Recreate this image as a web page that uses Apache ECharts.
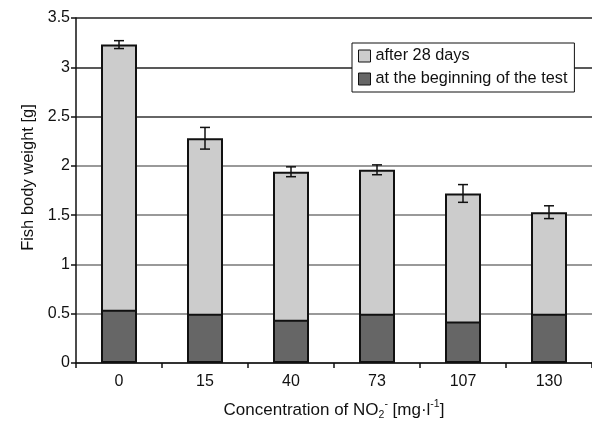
<!DOCTYPE html>
<html>
<head>
<meta charset="utf-8">
<script src="https://cdn.jsdelivr.net/npm/echarts@6/dist/echarts.min.js"></script>
<style>html,body{margin:0;padding:0;background:#fff}#c{width:592px;height:426px}</style>
</head>
<body>
<div id="c"></div>
<script>
var categories = ['0', '15', '40', '73', '107', '130'];
var after28Days = [3.23, 2.28, 1.94, 1.96, 1.72, 1.53];
var after28Err = [0.04, 0.11, 0.05, 0.05, 0.09, 0.065];
var atBeginning = [0.54, 0.50, 0.44, 0.50, 0.42, 0.50];
var yTicks = { min: 0, max: 3.5, interval: 0.5 };

var chart = echarts.init(document.getElementById('c'), null, { renderer: 'canvas' });
var FONT = '"Liberation Sans", Arial, Helvetica, sans-serif';

var errData = after28Days.map(function (v, i) { return [i, v, after28Err[i]]; });

chart.setOption({
  animation: false,
  backgroundColor: '#fff',
  textStyle: { fontFamily: FONT },
  grid: { left: 76, right: -7, top: 18, bottom: 57, containLabel: false },
  legend: {
    orient: 'vertical',
    left: 352, top: 43,
    backgroundColor: '#fff',
    borderColor: '#111', borderWidth: 1,
    padding: [5, 7, 5, 6],
    itemWidth: 12, itemHeight: 12, itemGap: 7,
    icon: 'rect',
    textStyle: { fontFamily: FONT, fontSize: 16.3, color: '#111' },
    itemStyle: { borderWidth: 1, borderColor: '#111' },
    data: ['after 28 days', 'at the beginning of the test']
  },
  xAxis: {
    type: 'category',
    data: categories,
    name: '{n|Concentration of NO}{sub|2}{sup|-}{n| [mg·l}{sup|-1}{n|]}',
    nameLocation: 'middle',
    nameGap: 36,
    nameTextStyle: {
      fontFamily: FONT, fontSize: 17, color: '#111',
      rich: {
        n: { fontFamily: FONT, fontSize: 17, color: '#111', lineHeight: 22, verticalAlign: 'middle' },
        sub: { fontFamily: FONT, fontSize: 10.5, color: '#111', lineHeight: 22, verticalAlign: 'bottom' },
        sup: { fontFamily: FONT, fontSize: 10.5, color: '#111', lineHeight: 22, verticalAlign: 'top' }
      }
    },
    axisLine: { lineStyle: { color: '#111', width: 1.5 } },
    axisTick: { show: true, length: 5, lineStyle: { color: '#111', width: 1.5 } },
    axisLabel: { fontFamily: FONT, fontSize: 16, color: '#111', margin: 11 },
    splitLine: { show: false }
  },
  yAxis: {
    type: 'value',
    min: yTicks.min, max: yTicks.max, interval: yTicks.interval,
    name: 'Fish body weight [g]',
    nameLocation: 'middle',
    nameGap: 39,
    nameTextStyle: { fontFamily: FONT, fontSize: 16.5, color: '#111', padding: [0, 0, 0, 26] },
    axisLine: { show: true, lineStyle: { color: '#111', width: 1.5 } },
    axisTick: { show: true, length: 5, lineStyle: { color: '#111', width: 1.5 } },
    axisLabel: { fontFamily: FONT, fontSize: 16, color: '#111', margin: 6 },
    splitLine: { show: true, lineStyle: { color: ['#777', '#777', '#777', '#777', '#777', '#333', '#222', '#222'], width: 1.5 } }
  },
  series: [
    {
      name: 'after 28 days',
      type: 'bar',
      data: after28Days,
      barWidth: 36,
      barGap: '-100%',
      itemStyle: { color: '#cccccc', borderColor: '#111', borderWidth: 2 },
      z: 2
    },
    {
      name: 'at the beginning of the test',
      type: 'bar',
      data: atBeginning,
      barWidth: 36,
      barGap: '-100%',
      itemStyle: { color: '#666666', borderColor: '#111', borderWidth: 2 },
      z: 3
    },
    {
      name: 'err',
      type: 'custom',
      data: errData,
      z: 5,
      silent: true,
      renderItem: function (params, api) {
        var x = api.value(0), v = api.value(1), e = api.value(2);
        var top = api.coord([x, v + e]);
        var bot = api.coord([x, v - e]);
        var hw = 5;
        var st = { stroke: '#111', lineWidth: 1.5 };
        return {
          type: 'group',
          children: [
            { type: 'line', shape: { x1: top[0], y1: top[1], x2: bot[0], y2: bot[1] }, style: st },
            { type: 'line', shape: { x1: top[0] - hw, y1: top[1], x2: top[0] + hw, y2: top[1] }, style: st },
            { type: 'line', shape: { x1: bot[0] - hw, y1: bot[1], x2: bot[0] + hw, y2: bot[1] }, style: st }
          ]
        };
      }
    }
  ]
});
</script>
</body>
</html>
